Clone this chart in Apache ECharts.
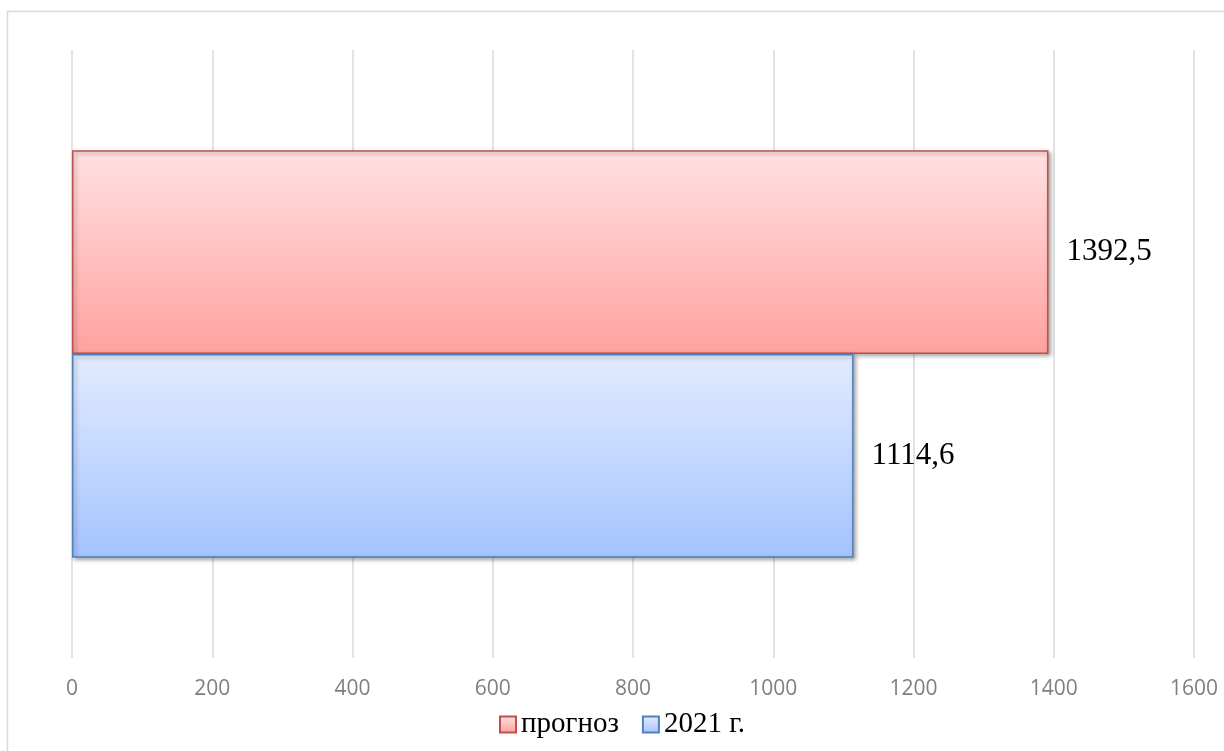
<!DOCTYPE html>
<html>
<head>
<meta charset="utf-8">
<script src="https://cdn.jsdelivr.net/npm/echarts@6/dist/echarts.min.js"></script>
<style>
  html, body { margin: 0; padding: 0; background: #fff; }
  #chart { width: 1224px; height: 751px; }
</style>
</head>
<body>
<div id="chart"></div>
<script>
// Categories (single group) and series values
const categories = [''];
const seriesNames = ['прогноз', '2021 г.'];
const forecastValues = [1392.5];
const year2021Values = [1114.6];
// Value axis ticks
const axisMin = 0;
const axisMax = 1600;
const axisStep = 200;

const chart = echarts.init(document.getElementById('chart'), null, { renderer: 'canvas' });

function vGrad(top, bottom) {
  return new echarts.graphic.LinearGradient(0, 0, 0, 1, [
    { offset: 0, color: top },
    { offset: 1, color: bottom }
  ]);
}

const labelStyle = {
  show: true,
  position: 'right',
  distance: 18,
  fontFamily: '"Liberation Serif", "Times New Roman", serif',
  fontSize: 31,
  color: '#000',
  formatter: p => String(p.value).replace('.', ',')
};

chart.setOption({
  animation: false,
  backgroundColor: '#fff',
  graphic: [{
    type: 'rect',
    silent: true,
    shape: { x: 7.5, y: 11.5, width: 1400, height: 900 },
    style: { fill: 'none', stroke: '#d9d9d9', lineWidth: 1.5 }
  }],
  legend: {
    data: seriesNames,
    left: 494,
    top: 705,
    itemWidth: 16,
    itemHeight: 16,
    itemGap: 23,
    icon: 'rect',
    textStyle: {
      fontFamily: '"Liberation Serif", "Times New Roman", serif',
      fontSize: 29,
      color: '#000'
    }
  },
  grid: { left: 72, right: 30, top: 50, bottom: 93 },
  xAxis: {
    type: 'value',
    min: axisMin,
    max: axisMax,
    interval: axisStep,
    axisLine: { show: false },
    axisTick: { show: false },
    axisLabel: {
      margin: 21,
      fontFamily: '"Open Sans", sans-serif',
      fontSize: 21,
      color: '#7f7f7f',
      formatter: v => String(v)
    },
    splitLine: { show: true, lineStyle: { color: '#d9d9d9', width: 1.5 } }
  },
  yAxis: {
    type: 'category',
    data: categories,
    axisLine: { show: false },
    axisTick: { show: false },
    axisLabel: { show: false }
  },
  series: [
    {
      name: seriesNames[0],
      type: 'bar',
      data: forecastValues,
      barGap: '0%',
      barCategoryGap: '33%',
      itemStyle: {
        color: vGrad('#ffe1e1', '#ffa19f'),
        borderColor: '#c0504d',
        borderWidth: 1.5,
        shadowColor: 'rgba(0,0,0,0.35)',
        shadowBlur: 4,
        shadowOffsetX: 2,
        shadowOffsetY: 2
      },
      label: labelStyle
    },
    {
      name: seriesNames[1],
      type: 'bar',
      data: year2021Values,
      barGap: '0%',
      barCategoryGap: '33%',
      itemStyle: {
        color: vGrad('#e2ecff', '#a5c3ff'),
        borderColor: '#4f81bd',
        borderWidth: 1.5,
        shadowColor: 'rgba(0,0,0,0.35)',
        shadowBlur: 4,
        shadowOffsetX: 2,
        shadowOffsetY: 2
      },
      label: labelStyle
    }
  ]
});
</script>
</body>
</html>
